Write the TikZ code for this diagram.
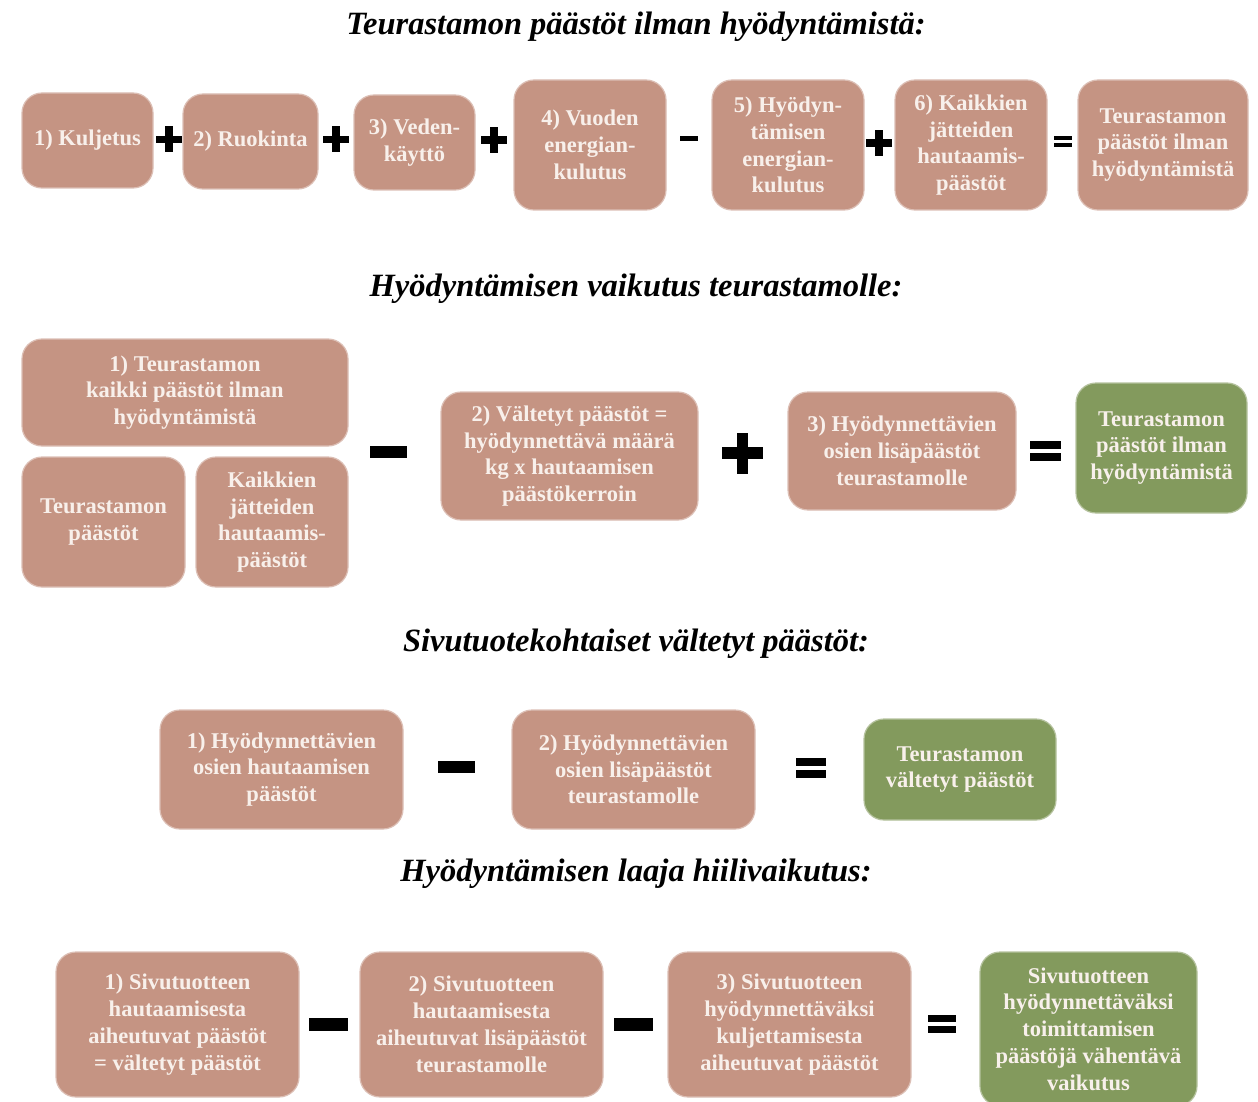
\documentclass[tikz,border=0pt]{standalone}
\usepackage{fontspec}
\setmainfont{Liberation Serif}
\definecolor{ruskea}{HTML}{C59483}
\definecolor{vihrea}{HTML}{839A5D}
\definecolor{vaalea}{HTML}{F8F0EB}

\begin{document}
\begin{tikzpicture}[x=1pt, y=-1pt,
    laatikko/.style={rounded corners=20, fill=ruskea, draw=ruskea!60!white, line width=1.2,
      text=vaalea, align=center, inner sep=2,
      font=\fontsize{22.5}{26.8}\selectfont\bfseries},
    tulos/.style={laatikko, fill=vihrea, draw=vihrea!60!white},
    otsikko/.style={font=\fontsize{32.5}{38}\selectfont\bfseries\itshape},
    pics/plussa/.style={code={
      \fill (-0.5,-0.14) rectangle (0.5,0.14);
      \fill (-0.14,-0.5) rectangle (0.14,0.5);}},
    pics/miinus/.style={code={\fill (-0.5,-0.16) rectangle (0.5,0.16);}},
    pics/yhtakuin/.style={code={
      \fill (-0.5,0.07) rectangle (0.5,0.32);
      \fill (-0.5,-0.07) rectangle (0.5,-0.32);}}]
  \useasboundingbox (0,0) rectangle (1258,1102);

  % rivi 1
  \node[otsikko] (ots1) at (636,27) {Teurastamon päästöt ilman hyödyntämistä:};
  \node[laatikko, minimum width=131, minimum height=95] (b1) at (87.5,140.5) {1) Kuljetus};
  \node[laatikko, minimum width=135, minimum height=95] (b2) at (250.5,141.5) {2) Ruokinta};
  \node[laatikko, minimum width=121, minimum height=95] (b3) at (414.5,142.5) {3) Veden-\\käyttö};
  \node[laatikko, minimum width=152, minimum height=130] (b4) at (590,145) {4) Vuoden\\energian-\\kulutus};
  \node[laatikko, minimum width=152, minimum height=130] (b5) at (788,145) {5) Hyödyn-\\tämisen\\energian-\\kulutus};
  \node[laatikko, minimum width=152, minimum height=130] (b6) at (971,145) {6) Kaikkien\\jätteiden\\hautaamis-\\päästöt};
  \node[laatikko, minimum width=170, minimum height=130] (b7) at (1163,145) {Teurastamon\\päästöt ilman\\hyödyntämistä};
  \pic[scale=26] (p1) at (169,139.5) {plussa};
  \pic[scale=26] (p2) at (336,139.5) {plussa};
  \pic[scale=26] (p3) at (494,140) {plussa};
  \pic[scale=18] (m1) at (689,138.5) {miinus};
  \pic[scale=26] (p4) at (879,143) {plussa};
  \pic[scale=18] (y1) at (1063,141.5) {yhtakuin};

  % rivi 2
  \node[otsikko] (ots2) at (636,289) {Hyödyntämisen vaikutus teurastamolle:};
  \node[laatikko, minimum width=326, minimum height=107] (c1) at (185,392.5) {1) Teurastamon\\kaikki päästöt ilman\\hyödyntämistä};
  \node[laatikko, minimum width=163, minimum height=130] (c1a) at (103.5,522) {Teurastamon\\päästöt};
  \node[laatikko, minimum width=152, minimum height=130] (c1b) at (272,522) {Kaikkien\\jätteiden\\hautaamis-\\päästöt};
  \node[laatikko, minimum width=257, minimum height=128] (c2) at (569.5,456) {2) Vältetyt päästöt =\\hyödynnettävä määrä\\kg x hautaamisen\\päästökerroin};
  \node[laatikko, minimum width=228, minimum height=118] (c3) at (902,451) {3) Hyödynnettävien\\osien lisäpäästöt\\teurastamolle};
  \node[tulos, minimum width=171, minimum height=130] (c4) at (1161.5,448) {Teurastamon\\päästöt ilman\\hyödyntämistä};
  \pic[scale=37] (m2) at (388.5,452) {miinus};
  \pic[scale=41] (p5) at (742.5,453) {plussa};
  \pic[scale=31] (y2) at (1045.5,451) {yhtakuin};

  % rivi 3
  \node[otsikko] (ots3) at (636,644) {Sivutuotekohtaiset vältetyt päästöt:};
  \node[laatikko, minimum width=243, minimum height=119] (d1) at (281.5,769.5) {1) Hyödynnettävien\\osien hautaamisen\\päästöt};
  \node[laatikko, minimum width=243, minimum height=119] (d2) at (633.5,769.5) {2) Hyödynnettävien\\osien lisäpäästöt\\teurastamolle};
  \node[tulos, minimum width=192, minimum height=101] (d3) at (960,769.5) {Teurastamon\\vältetyt päästöt};
  \pic[scale=37] (m3) at (456.5,767) {miinus};
  \pic[scale=30] (y3) at (811,768) {yhtakuin};

  % rivi 4
  \node[otsikko] (ots4) at (636,874) {Hyödyntämisen laaja hiilivaikutus:};
  \node[laatikko, minimum width=243, minimum height=145] (e1) at (177.5,1024.5) {1) Sivutuotteen\\hautaamisesta\\aiheutuvat päästöt\\= vältetyt päästöt};
  \node[laatikko, minimum width=243, minimum height=145] (e2) at (481.5,1024.5) {2) Sivutuotteen\\hautaamisesta\\aiheutuvat lisäpäästöt\\teurastamolle};
  \node[laatikko, minimum width=243, minimum height=145] (e3) at (789.5,1024.5) {3) Sivutuotteen\\hyödynnettäväksi\\kuljettamisesta\\aiheutuvat päästöt};
  \node[tulos, minimum width=217, minimum height=154] (e4) at (1088.5,1029) {Sivutuotteen\\hyödynnettäväksi\\toimittamisen\\päästöjä vähentävä\\vaikutus};
  \pic[scale=39] (m4) at (328.5,1024.5) {miinus};
  \pic[scale=39] (m5) at (633.5,1024.5) {miinus};
  \pic[scale=28] (y4) at (942,1024) {yhtakuin};
\end{tikzpicture}
\end{document}
